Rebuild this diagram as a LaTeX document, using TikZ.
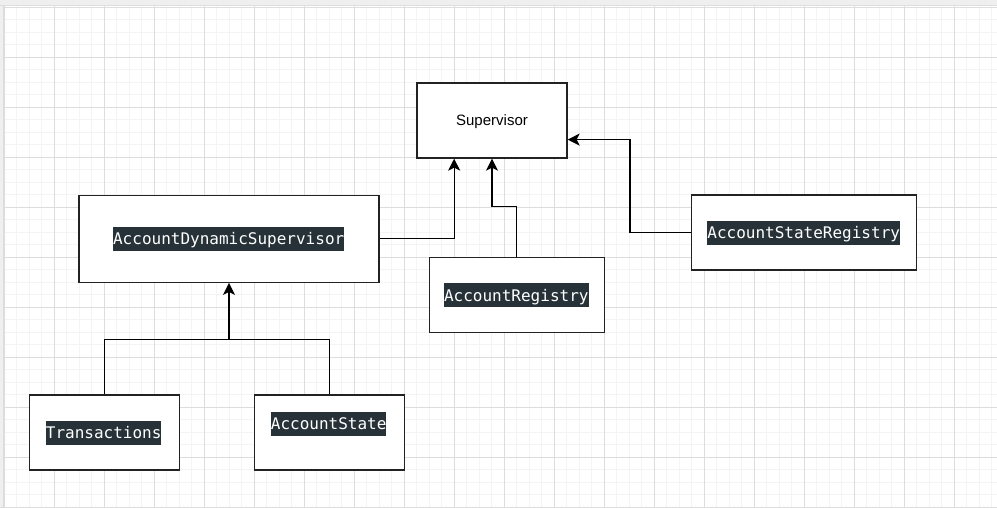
\documentclass[tikz,border=0pt]{standalone}
\usepackage{fontspec}
\setmainfont{Liberation Sans}
\newfontfamily\codefont{DejaVu Sans Mono}
\usetikzlibrary{arrows.meta,calc}
\definecolor{hlbg}{HTML}{263238}
\definecolor{gridminor}{HTML}{F4F4F4}
\definecolor{gridmajor}{HTML}{DDDDDD}
\definecolor{frame}{HTML}{EFEFEF}
\definecolor{boxline}{HTML}{222222}
\begin{document}
\begin{tikzpicture}[x=1pt,y=-1pt,
  box/.style={draw=boxline,line width=1.3pt,fill=white,inner sep=0pt,minimum height=75pt},
  code/.style={fill=hlbg,text=white,font=\codefont\fontsize{16pt}{18pt}\selectfont,inner xsep=0pt,inner ysep=2pt,text height=16pt,text depth=4pt},
  plain/.style={font=\fontsize{15pt}{17pt}\selectfont},
  conn/.style={line width=1.25pt,draw=black},
  arr/.style={conn,-{Stealth[length=12pt,width=12pt,inset=3pt]}}
]
\useasboundingbox (0,0) rectangle (997,508);
% canvas
\fill[frame] (0,0) rectangle (997,508);
\fill[white] (4,6) rectangle (997,507);
\foreach \i in {0,...,79} \draw[gridminor,line width=1pt] ({4.3+12.5*\i},6) -- ({4.3+12.5*\i},507);
\foreach \j in {0,...,40} \draw[gridminor,line width=1pt] (4,{7.3+12.5*\j}) -- (997,{7.3+12.5*\j});
\foreach \i in {0,...,19} \draw[gridmajor,line width=1pt] ({4.3+50*\i},6) -- ({4.3+50*\i},507);
\foreach \j in {0,...,10} \draw[gridmajor,line width=1pt] (4,{7.3+50*\j}) -- (997,{7.3+50*\j});
\draw[gridmajor,line width=1.2pt] (0,5.5) -- (997,5.5);
\draw[gridmajor,line width=1.2pt] (0,507.4) -- (997,507.4);
\draw[gridmajor,line width=1pt] (3.5,5.5) -- (3.5,507.4);

% boxes
\node[box,minimum width=150pt] (sup) at (492,120.5) {};
\node[plain] (suplbl) at (492,121.5) {Supervisor};
\node[box,minimum width=300pt,minimum height=87pt] (ads) at (229,238.8) {};
\node[code] (adslbl) at (228.7,238.8) {AccountDynamicSupervisor};
\node[box,minimum width=175pt] (ar) at (516.7,295) {};
\node[code] (arlbl) at (516.3,295) {AccountRegistry};
\node[box,minimum width=225pt] (asr) at (804.3,232.5) {};
\node[code] (asrlbl) at (803.7,232.8) {AccountStateRegistry};
\node[box,minimum width=150pt] (tr) at (104.3,432.5) {};
\node[code] (trlbl) at (103.7,432.8) {Transactions};
\node[box,minimum width=150pt] (as) at (329.3,432.5) {};
\node[code] (aslbl) at (328.7,423.8) {AccountState};

% connector anchors
\coordinate (supq) at ($(sup.south west)!0.25!(sup.south east)$);
\coordinate (supr) at ($(sup.north east)!0.75!(sup.south east)$);
\coordinate (join) at ($(ads.south)+(0,56.7)$);

% connectors
\draw[arr] (ads.east) -| (supq);
\draw[arr] (ar.north) -- ++(0,-50) -| (sup.south);
\draw[arr] (asr.west) -| ($(supr)+(62.3,0)$) -- (supr);
\draw[conn] (tr.north) |- (join);
\draw[conn] (as.north) |- (join);
\draw[arr] (join) -- (ads.south);
\end{tikzpicture}
\end{document}
